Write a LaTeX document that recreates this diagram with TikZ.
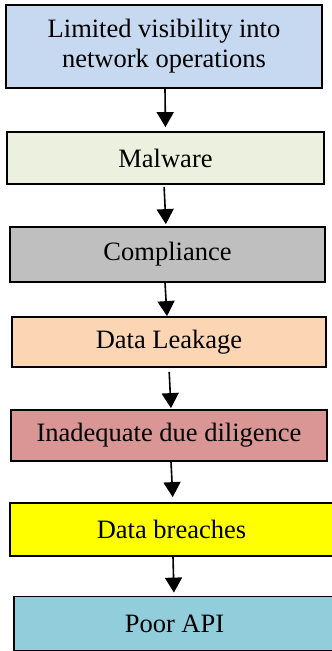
\documentclass[tikz,border=0pt]{standalone}
\usepackage{fontspec}
\setmainfont{Liberation Serif}
\usetikzlibrary{arrows.meta}
\definecolor{cVis}{HTML}{C6D9F1}
\definecolor{cMal}{HTML}{EBF1DE}
\definecolor{cCom}{HTML}{BFBFBF}
\definecolor{cLeak}{HTML}{FCD5B4}
\definecolor{cDue}{HTML}{D99694}
\definecolor{cBre}{HTML}{FFFF00}
\definecolor{cApi}{HTML}{92CDDC}
\tikzset{
  stagebox/.style={draw=black, line width=1.8pt, rectangle, inner sep=0pt,
    align=center, font=\fontsize{26.5}{30}\selectfont, text=black},
  flowarrow/.style={line width=1.6pt, draw=black,
    -{Triangle[width=17pt,length=15pt]}}
}
\begin{document}
\begin{tikzpicture}[x=1pt,y=-1pt]
  \useasboundingbox (0,0) rectangle (332,651);
  \clip (0,0) rectangle (332,651);
  \node[stagebox, fill=cVis,  minimum width=316pt, minimum height=83pt] (vis)  at (164,46.5)   {Limited visibility into\\network operations};
  \node[stagebox, fill=cMal,  minimum width=317pt, minimum height=52pt] (mal)  at (165.5,158)  {Malware};
  \node[stagebox, fill=cCom,  minimum width=315pt, minimum height=55pt] (com)  at (167.5,254.5){Compliance};
  \node[stagebox, fill=cLeak, minimum width=314pt, minimum height=50pt] (leak) at (169,342)    {Data Leakage};
  \node[stagebox, fill=cDue,  minimum width=316pt, minimum height=51pt] (due)  at (169,435.5)  {Inadequate due diligence};
  \node[stagebox, fill=cBre,  minimum width=323pt, minimum height=53pt] (bre)  at (171.5,529.5){Data breaches};
  \node[stagebox, fill=cApi,  minimum width=321pt, minimum height=54pt] (api)  at (174.5,623.5){Poor API};

  \draw[flowarrow, shorten >=4pt] ([xshift=1pt]vis.south) -- (mal.north);
  \draw[flowarrow, shorten <=2pt, shorten >=2pt] ([xshift=-1.5pt]mal.south) -- ([xshift=-1.5pt]com.north);
  \draw[flowarrow] ([xshift=-2.5pt]com.south) -- ([xshift=-2pt]leak.north);
  \draw[flowarrow, shorten <=4pt, shorten >=1pt] (leak.south) -- ([xshift=2pt]due.north);
  \draw[flowarrow, shorten >=5pt] ([xshift=2pt]due.south) -- ([xshift=1.5pt]bre.north);
  \draw[flowarrow, shorten >=3pt] ([xshift=1.5pt]bre.south) -- ([xshift=-0.5pt]api.north);
\end{tikzpicture}
\end{document}
